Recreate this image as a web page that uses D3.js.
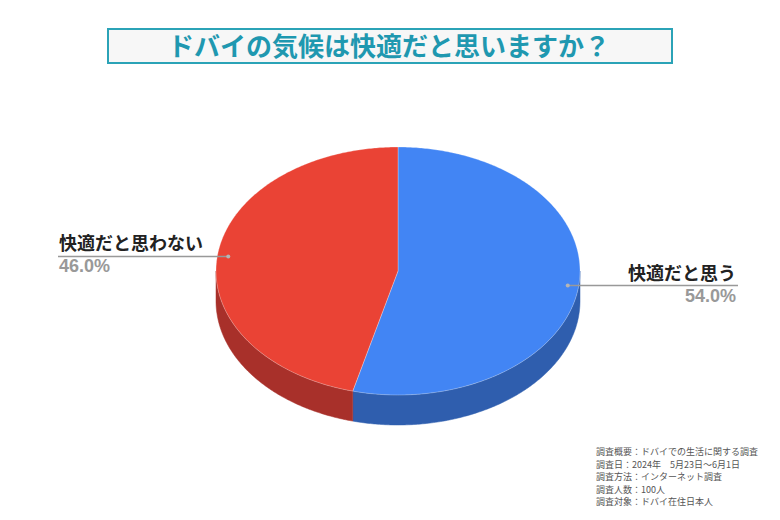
<!DOCTYPE html>
<html>
<head>
<meta charset="utf-8">
<script src="https://cdn.jsdelivr.net/npm/d3@7"></script>
<style>
  body { margin: 0; background: #fff; }
  svg { display: block; }
</style>
</head>
<body>
<svg id="chart" width="780" height="520"></svg>
<script>
// data
let titleText = "ドバイの気候は快適だと思いますか？";
let labels = ["快適だと思う", "快適だと思わない"];
let values = [54.0, 46.0];
let colors = ["#4285f4", "#ea4335"];
let sideColors = ["#2f5eae", "#a8302a"];
let notes = [
    "調査概要：ドバイでの生活に関する調査",
    "調査日：2024年　5月23日～6月1日",
    "調査方法：インターネット調査",
    "調査人数：100人",
    "調査対象：ドバイ在住日本人"
];

let svg = d3.select("#chart");

// title box
svg.append("rect")
    .attr("x", 108).attr("y", 29)
    .attr("width", 564).attr("height", 34)
    .attr("fill", "#f7f7f7")
    .attr("stroke", "#2ba3b7")
    .attr("stroke-width", 2);
svg.append("text")
    .text(titleText)
    .attr("x", 389).attr("y", 56)
    .attr("text-anchor", "middle")
    .attr("font-family", "'Noto Sans CJK JP', sans-serif")
    .attr("font-weight", "bold")
    .attr("font-size", "26px")
    .attr("fill", "#1f98b0");

// pie geometry (tilted ellipse)
let cx = 398, cy = 271, rx = 182, ry = 124, depth = 30;
let pie = d3.pie().sort(null).value(d => d)(values);

// angle -> point on the tilted ellipse
let pt = (a, k = 1, dy = 0) => [cx + rx * k * Math.sin(a), cy - ry * k * Math.cos(a) + dy];
let line = d3.line();

function arcPoints(a0, a1, dy) {
    let n = Math.max(2, Math.ceil((a1 - a0) / 0.01));
    return d3.range(n + 1).map(i => pt(a0 + (a1 - a0) * i / n, 1, dy));
}

// side walls (only the front half is visible)
pie.forEach((p, i) => {
    let a0 = Math.max(p.startAngle, Math.PI / 2);
    let a1 = Math.min(p.endAngle, Math.PI * 1.5);
    if (a1 <= a0) return;
    let top = arcPoints(a0, a1, 0);
    let bottom = arcPoints(a0, a1, depth).reverse();
    svg.append("path")
        .attr("d", line(top.concat(bottom)) + "Z")
        .attr("fill", sideColors[i])
        .attr("stroke", sideColors[i])
        .attr("stroke-width", 0.5);
});

// top faces
pie.forEach((p, i) => {
    let pts = [[cx, cy]].concat(arcPoints(p.startAngle, p.endAngle, 0));
    svg.append("path")
        .attr("d", line(pts) + "Z")
        .attr("fill", colors[i])
        .attr("stroke", "rgba(255,255,255,0.35)")
        .attr("stroke-width", 0.8);
});

// labels
let font = "'Noto Sans CJK JP', sans-serif";
pie.forEach((p, i) => {
    let mid = (p.startAngle + p.endAngle) / 2;
    let [dx, dy] = pt(mid, 0.94);
    let right = Math.sin(mid) > 0;
    let endX = right ? 738 : 58;
    svg.append("line")
        .attr("x1", dx).attr("y1", dy)
        .attr("x2", endX).attr("y2", dy)
        .attr("stroke", "#999")
        .attr("stroke-width", 1.5);
    svg.append("circle")
        .attr("cx", dx).attr("cy", dy).attr("r", 2)
        .attr("fill", "#b5b5b5");
    svg.append("text")
        .text(labels[i])
        .attr("x", right ? 736 : 59).attr("y", dy - 6)
        .attr("text-anchor", right ? "end" : "start")
        .attr("font-family", font)
        .attr("font-weight", "bold")
        .attr("font-size", "18px")
        .attr("fill", "#222");
    svg.append("text")
        .text(values[i].toFixed(1) + "%")
        .attr("x", right ? 736 : 59).attr("y", dy + 16)
        .attr("text-anchor", right ? "end" : "start")
        .attr("font-family", "'Liberation Sans', Arial, sans-serif")
        .attr("font-weight", "bold")
        .attr("font-size", "18px")
        .attr("fill", "#999");
});

// footnote
svg.append("g").selectAll("text")
    .data(notes).enter()
    .append("text")
    .text(d => d)
    .attr("x", 596)
    .attr("y", (d, i) => 455 + i * 12.5)
    .attr("font-family", font)
    .attr("font-size", "9px")
    .attr("fill", "#555");
</script>
</body>
</html>
